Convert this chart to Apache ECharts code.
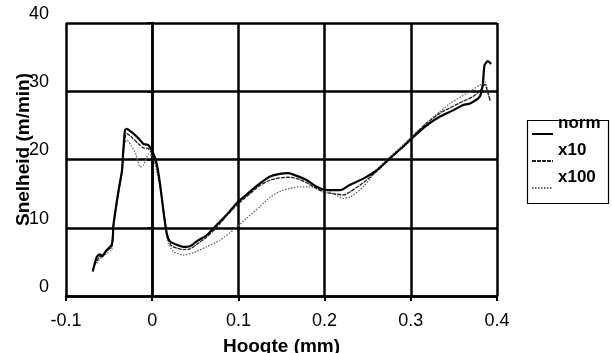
<!DOCTYPE html>
<html>
<head>
<meta charset="utf-8">
<script src="https://cdn.jsdelivr.net/npm/echarts@6/dist/echarts.min.js"></script>
<style>html,body{margin:0;padding:0;background:#fff;}#c{width:612px;height:353px;}</style>
</head>
<body>
<div id="c"></div>
<script>
const xTicks = [-0.1, 0, 0.1, 0.2, 0.3, 0.4];
const yTicks = [0, 10, 20, 30, 40];
const seriesNames = ['norm', 'x10', 'x100'];

const normX = [-0.069,-0.0644,-0.061,-0.058,-0.053,-0.047,-0.0455,-0.045,-0.039,-0.035,-0.0335,-0.0316,-0.0296,-0.0238,-0.016,-0.0103,-0.0045,0.0013,0.0052,0.009,0.0129,0.0168,0.0206,0.0284,0.036,0.0439,0.0516,0.0632,0.0748,0.0864,0.098,0.1135,0.125,0.1367,0.148,0.158,0.1675,0.179,0.1908,0.1985,0.2063,0.218,0.2295,0.245,0.2603,0.2759,0.2913,0.303,0.3184,0.3339,0.349,0.3606,0.3687,0.380,0.3835,0.3855,0.3893,0.3932];
const normY = [3.6,5.7,6.1,5.8,6.7,7.5,9.0,10.4,15.5,18.4,21.4,24.3,24.5,24.0,23.1,22.3,22.1,20.9,19.4,16.5,12.6,9.2,8.0,7.5,7.2,7.3,8.0,8.9,10.4,11.9,13.6,15.3,16.5,17.5,17.9,18.0,17.6,17.0,16.0,15.6,15.5,15.5,16.3,17.2,18.4,20.2,21.9,23.3,25.0,26.3,27.2,28.0,28.2,29.2,31.0,33.8,34.4,34.0];

const x10X = [-0.067,-0.062,-0.055,-0.047,-0.045,-0.039,-0.035,-0.0335,-0.031,-0.0296,-0.024,-0.016,-0.0103,-0.0045,0.0013,0.006,0.01,0.014,0.018,0.022,0.029,0.036,0.044,0.052,0.063,0.075,0.086,0.098,0.1135,0.125,0.137,0.148,0.158,0.168,0.179,0.191,0.2,0.21,0.222,0.23,0.245,0.26,0.276,0.291,0.303,0.318,0.334,0.349,0.36,0.372,0.381,0.386,0.389,0.392];
const x10Y = [4.5,5.6,6.4,7.2,10.3,15.3,18.2,21.0,23.5,23.8,23.3,22.3,21.7,21.6,20.5,18.5,15.5,11.5,8.6,7.4,7.0,6.8,6.9,7.6,8.6,10.1,11.7,13.3,15.0,16.2,17.0,17.3,17.4,17.2,16.6,15.7,15.2,15.0,14.8,15.3,16.6,18.2,20.1,21.9,23.5,25.3,26.8,27.8,28.5,29.2,30.2,31.0,30.0,28.6];

const x100X = [-0.0644,-0.058,-0.052,-0.047,-0.045,-0.04,-0.036,-0.034,-0.032,-0.029,-0.024,-0.019,-0.014,-0.01,-0.004,0.001,0.005,0.011,0.015,0.0187,0.0245,0.036,0.0477,0.063,0.0787,0.094,0.1096,0.125,0.137,0.148,0.16,0.172,0.183,0.199,0.21,0.2217,0.2295,0.245,0.26,0.276,0.299,0.3223,0.3455,0.365,0.380,0.386,0.389,0.392];
const x100Y = [4.8,5.8,6.3,6.8,9.8,14.5,17.5,20.5,22.5,22.8,22.0,20.8,18.9,19.2,20.8,20.3,18.4,14.5,10.6,7.7,6.5,6.0,6.35,7.2,8.2,9.66,11.4,13.1,14.5,15.3,15.8,16.0,16.0,15.6,15.0,14.3,14.5,16.0,18.4,20.4,23.1,25.8,28.2,29.7,30.9,31.4,30.0,28.7];

const pairs = (xs, ys) => xs.map((x, i) => [x, ys[i]]);
const font = '"Liberation Sans", Arial, Helvetica, sans-serif';

const chart = echarts.init(document.getElementById('c'), null, {renderer: 'canvas'});
chart.setOption({
  animation: false,
  backgroundColor: '#fff',
  grid: {left: 66, right: 115, top: 23, bottom: 57, containLabel: false, outerBoundsMode: 'none'},
  xAxis: {
    type: 'value', min: xTicks[0], max: xTicks[xTicks.length - 1], interval: 0.1,
    name: 'Hoogte (mm)', nameLocation: 'middle', nameGap: 41, nameMoveOverlap: false,
    nameTextStyle: {fontFamily: font, fontSize: 19, fontWeight: 'bold', color: '#000'},
    axisLine: {show: true, lineStyle: {color: '#000', width: 2.5}},
    axisTick: {show: true, inside: false, length: 5, lineStyle: {color: '#000', width: 2}},
    axisLabel: {margin: 16, fontFamily: font, fontSize: 18, color: '#000',
      formatter: v => String(Math.round(v * 10) / 10)},
    splitLine: {show: true, lineStyle: {color: '#000', width: 2.5}}
  },
  yAxis: {
    type: 'value', min: yTicks[0], max: yTicks[yTicks.length - 1], interval: 10,
    name: 'Snelheid (m/min)', nameLocation: 'middle', nameGap: 33, nameMoveOverlap: false,
    nameTextStyle: {fontFamily: font, fontSize: 19, fontWeight: 'bold', color: '#000', padding: [0, 0, 0, 20]},
    axisLine: {show: true, lineStyle: {color: '#000', width: 2.5}},
    axisTick: {show: true, inside: false, length: 5, lineStyle: {color: '#000', width: 2}},
    axisLabel: {margin: 17, fontFamily: font, fontSize: 18, color: '#000', verticalAlign: 'bottom', lineHeight: 18},
    splitLine: {show: true, lineStyle: {color: '#000', width: 2.5}}
  },
  legend: {
    orient: 'vertical', left: 531, top: 114.5, padding: 0,
    itemWidth: 21, itemHeight: 10, itemGap: -6,
    data: seriesNames,
    itemStyle: {color: 'rgba(0,0,0,0)', borderWidth: 0, opacity: 0},
    formatter: name => '{t|' + name + '}\n{s|}',
    textStyle: {fontFamily: font, fontSize: 17, fontWeight: 'bold', color: '#000',
      rich: {t: {fontFamily: font, fontSize: 17, fontWeight: 'bold', color: '#000', lineHeight: 17},
             s: {fontSize: 10, lineHeight: 22}}}
  },
  graphic: [{
    type: 'rect', left: 525, top: 118, z: 100, silent: true,
    shape: {width: 81, height: 83},
    style: {fill: 'none', stroke: '#000', lineWidth: 1.2}
  }],
  series: [
    {name: seriesNames[0], type: 'line', data: pairs(normX, normY), showSymbol: false, symbol: 'none', smooth: 0.2,
      lineStyle: {color: '#000', width: 2.2}, itemStyle: {color: '#000'}, z: 5},
    {name: seriesNames[1], type: 'line', data: pairs(x10X, x10Y), showSymbol: false, symbol: 'none', smooth: 0.2,
      lineStyle: {color: '#222', width: 1.3, type: [4, 1]}, itemStyle: {color: '#222'}, z: 4},
    {name: seriesNames[2], type: 'line', data: pairs(x100X, x100Y), showSymbol: false, symbol: 'none', smooth: 0.2,
      lineStyle: {color: '#666', width: 1.3, type: [1.5, 1.5]}, itemStyle: {color: '#666'}, z: 3}
  ]
});
</script>
</body>
</html>
